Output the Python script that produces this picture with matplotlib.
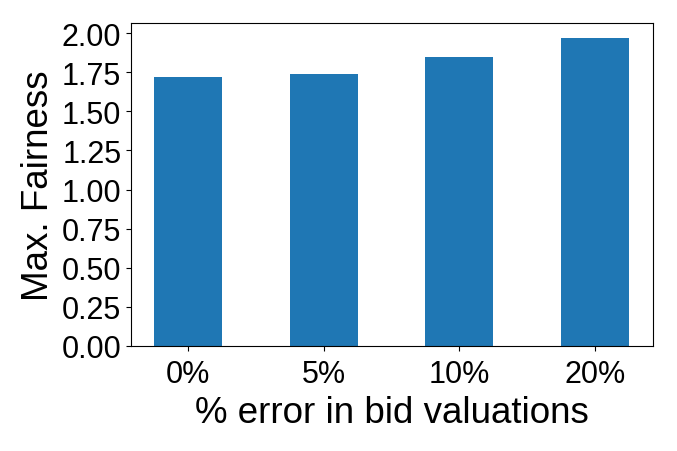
import matplotlib
matplotlib.use('Agg')
import matplotlib.pyplot as plt

plt.rcParams['font.family'] = ['Liberation Sans', 'DejaVu Sans']

errors = ['0%', '5%', '10%', '20%']
fairness = [1.717, 1.738, 1.845, 1.966]

fig = plt.figure(figsize=(6.77, 4.52), dpi=100)
ax = fig.add_axes([131/677, 1-347/452, (653-131)/677, (347-24)/452])
ax.bar(range(len(errors)), fairness, 0.5, color='#1f77b4')
ax.set_xticks(range(len(errors)))
ax.set_xticklabels(errors, size=22)
ax.tick_params(axis='x', pad=6)
ax.set_xlim(-0.42, 3.427)
ax.set_ylim(0, 2.064)
ax.set_yticks([0, 0.25, 0.5, 0.75, 1.0, 1.25, 1.5, 1.75, 2.0])
ax.set_yticklabels(['{:.2f}'.format(v) for v in ax.get_yticks()], size=22)
ax.set_ylabel('Max. Fairness', size=26.5)
ax.set_xlabel('% error in bid valuations', size=26.5, labelpad=4)
fig.savefig('out.png', dpi=100)
